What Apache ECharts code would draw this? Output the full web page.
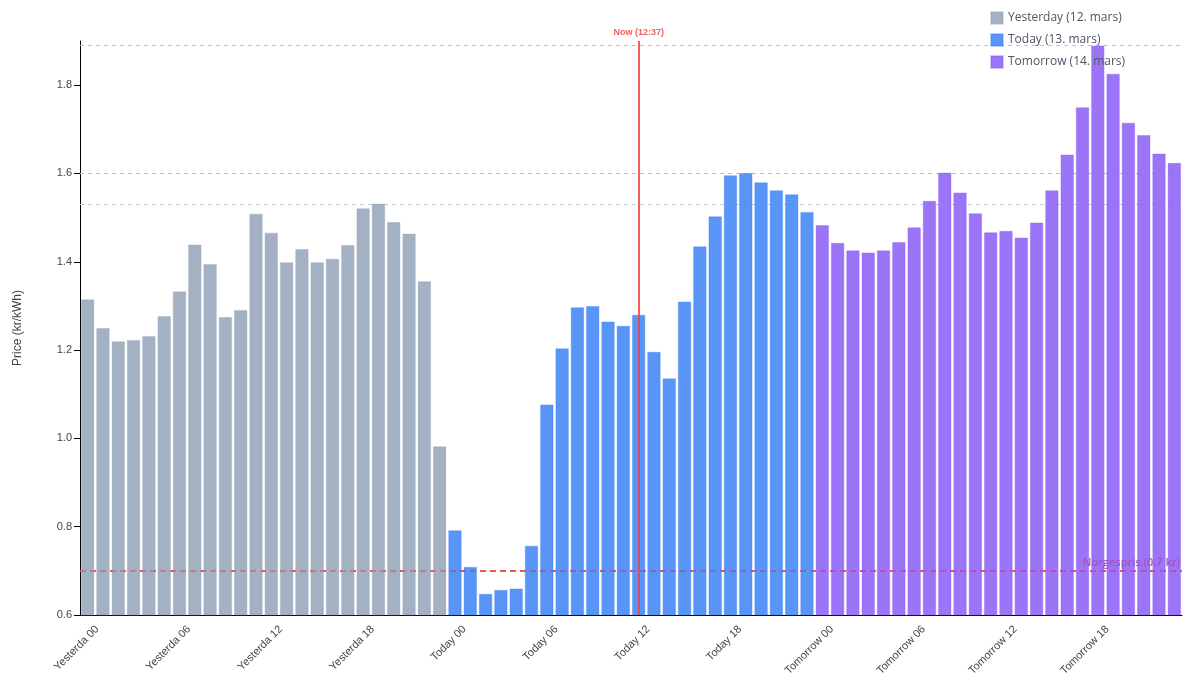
<!DOCTYPE html>
<html><head><meta charset="utf-8">
<script src="https://cdn.jsdelivr.net/npm/echarts@6/dist/echarts.min.js"></script>
<style>html,body{margin:0;padding:0;background:#fff}#c{width:1200px;height:675px}</style>
</head><body><div id="c"></div>
<script>
// ---- data ----
const dayPrefixes = ['Yesterda', 'Today', 'Tomorrow'];
const hourLabels = ['00','01','02','03','04','05','06','07','08','09','10','11','12','13','14','15','16','17','18','19','20','21','22','23'];
const seriesNames = ['Yesterday (12. mars)', 'Today (13. mars)', 'Tomorrow (14. mars)'];
const yesterday = [1.315,1.250,1.220,1.223,1.232,1.277,1.333,1.439,1.395,1.275,1.291,1.509,1.466,1.399,1.429,1.399,1.407,1.438,1.521,1.532,1.490,1.464,1.356,0.982];
const today = [0.792,0.709,0.648,0.657,0.660,0.757,1.077,1.204,1.297,1.300,1.265,1.255,1.280,1.196,1.136,1.310,1.435,1.503,1.596,1.601,1.580,1.562,1.553,1.513];
const tomorrow = [1.483,1.443,1.426,1.421,1.426,1.445,1.478,1.538,1.602,1.557,1.510,1.467,1.470,1.455,1.489,1.562,1.643,1.750,1.890,1.826,1.715,1.687,1.645,1.624];
const norgespris = 0.7;
const norgesprisLabel = 'Norgespris (0.7 kr)';
const nowDayIndex = 1, nowHourIndex = 12;
const nowLabel = 'Now (12:37)';
const yTicks = { min: 0.6, max: 1.9, interval: 0.2 };
const yName = 'Price (kr/kWh)';

// ---- build ----
const categories = [];
dayPrefixes.forEach(d => hourLabels.forEach(h => categories.push(d + ' ' + h)));
const N = categories.length;
const days = [yesterday, today, tomorrow];
const baseColors = ['148,163,184', '59,130,246', '139,92,246'];
function padDay(arr, idx) {
  const out = new Array(N).fill('-');
  arr.forEach((v, i) => { out[idx * 24 + i] = v; });
  return out;
}
const nowCat = categories[nowDayIndex * 24 + nowHourIndex];

const barSeries = days.map((arr, i) => ({
  name: seriesNames[i],
  type: 'bar',
  stack: 'all',
  z: 3,
  barCategoryGap: '12%',
  data: padDay(arr, i),
  itemStyle: {
    color: 'rgba(' + baseColors[i] + ',0.85)',
    borderColor: 'rgba(' + baseColors[i] + ',0.35)',
    borderWidth: 1
  },
  emphasis: { disabled: true }
}));

const empty = new Array(N).fill('-');
const lowLines = {
  type: 'line', z: 1, data: empty, silent: true, symbol: 'none',
  markLine: {
    z: 1, silent: true, symbol: ['none', 'none'], label: { show: false },
    data: [
      { yAxis: norgespris, lineStyle: { color: '#ef4444', opacity: 0.9, type: [6, 4], width: 2 } },
      { yAxis: Math.max(...yesterday), lineStyle: { color: '#c5cdd9', opacity: 1, type: [4, 4], width: 1 } },
      { yAxis: Math.max(...today), lineStyle: { color: '#a3c2f7', opacity: 1, type: [4, 4], width: 1 } },
      { yAxis: Math.max(...tomorrow), lineStyle: { color: '#c7b3f9', opacity: 1, type: [4, 4], width: 1 } }
    ]
  }
};
const highLines = {
  type: 'line', z: 5, data: empty, silent: true, symbol: 'none',
  markLine: {
    z: 6, silent: true, symbol: ['none', 'none'],
    data: [
      { xAxis: nowCat,
        lineStyle: { color: '#ef4444', opacity: 0.85, type: 'solid', width: 2 },
        label: { show: true, position: 'end', formatter: nowLabel, color: '#ef4444', fontSize: 9, fontWeight: 'bold', fontFamily: 'Liberation Sans, Arial, sans-serif', distance: 4 } },
      { yAxis: norgespris,
        lineStyle: { color: '#ef4444', opacity: 0.25, type: [6, 4], width: 2 },
        label: { show: false } },
      { yAxis: norgespris,
        lineStyle: { color: 'rgba(0,0,0,0)', opacity: 1, width: 1 },
        label: { show: true, position: 'insideEndTop', formatter: norgesprisLabel, color: '#a352c4', textBorderWidth: 0, fontSize: 11, fontWeight: 600, fontFamily: 'Open Sans, sans-serif', distance: 2 } }
    ]
  }
};

const chart = echarts.init(document.getElementById('c'), null, { renderer: 'canvas' });
chart.setOption({
  animation: false,
  backgroundColor: '#fff',
  grid: { left: 80, right: 18, top: 41, bottom: 60, containLabel: false, outerBoundsMode: 'none' },
  legend: {
    data: seriesNames, orient: 'vertical', left: 985, top: 6,
    icon: 'rect', itemWidth: 12, itemHeight: 12, itemGap: 8,
    textStyle: { fontSize: 12, color: '#4b5563', fontFamily: 'Open Sans, sans-serif' },
    selectedMode: false
  },
  xAxis: {
    type: 'category', data: categories, boundaryGap: true,
    axisLine: { lineStyle: { color: '#000', width: 1 } },
    axisTick: { alignWithLabel: true, interval: (i) => i % 6 === 0, length: 6, lineStyle: { color: '#555' } },
    axisLabel: {
      interval: (i) => i % 6 === 0, rotate: 45, fontSize: 11, color: '#444',
      fontFamily: 'Liberation Sans, Arial, sans-serif', margin: 3,
      verticalAlign: 'top', padding: [8, 0, 0, 0]
    },
    splitLine: { show: false }
  },
  yAxis: {
    type: 'value', min: yTicks.min, max: yTicks.max, interval: yTicks.interval,
    name: yName, nameLocation: 'middle', nameGap: 56, nameRotate: 90,
    nameTextStyle: { fontSize: 12, color: '#444', fontFamily: 'Liberation Sans, Arial, sans-serif' },
    axisLine: { show: true, lineStyle: { color: '#000', width: 1 } },
    axisTick: { show: true, length: 6, lineStyle: { color: '#000' } },
    axisLabel: { fontSize: 11, color: '#444', showMaxLabel: false, fontFamily: 'Liberation Sans, Arial, sans-serif', formatter: v => v.toFixed(1), margin: 8 },
    splitLine: { show: false }
  },
  series: [lowLines, ...barSeries, highLines]
});
</script></body></html>
